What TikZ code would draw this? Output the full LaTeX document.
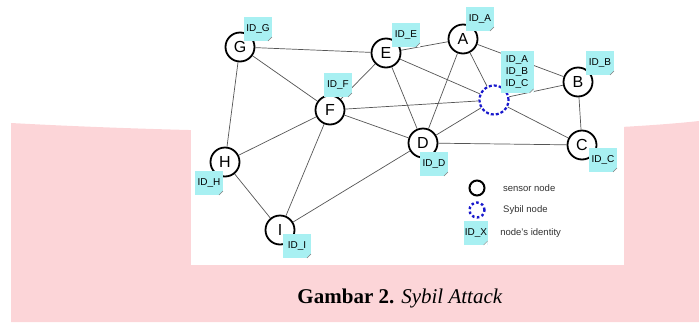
\documentclass[tikz,border=0pt]{standalone}
\usepackage{fontspec}
\setmainfont{Liberation Serif}
\setsansfont{Liberation Sans}
\usetikzlibrary{positioning}
\definecolor{idcyan}{RGB}{168,240,242}
\definecolor{bandpink}{RGB}{252,213,216}
\definecolor{sybilblue}{RGB}{25,25,205}
\definecolor{edgegray}{RGB}{85,85,85}
\tikzstyle{sensor} = [circle, 
			draw, 
			line width = 1.8pt, 
			fill = white, 
			inner sep = 0pt, 
			minimum size = 29pt, 
			font = \sffamily\fontsize{16}{16}\selectfont]
\tikzstyle{sybil} = [circle, 
			draw = sybilblue, 
			dash pattern = on 3pt off 2pt, 
			line width = 2.2pt, 
			fill = white, 
			minimum size = 29pt]
\tikzstyle{ident} = [rectangle, 
			fill = idcyan, 
			text centered, 
			inner sep = 1pt, 
			minimum width = 28pt, 
			minimum height = 24pt, 
			font = \sffamily\fontsize{10}{12}\selectfont, 
			path picture = {
				\fill [white] ([xshift=-4pt]path picture bounding box.south east) -- (path picture bounding box.south east) -- ([yshift=4pt]path picture bounding box.south east) -- cycle;
				\draw [gray] ([xshift=-4pt]path picture bounding box.south east) -- ([yshift=4pt]path picture bounding box.south east);
			}]
\tikzstyle{link} = [draw = edgegray, line width = 0.7pt]
\tikzstyle{legend} = [font = \sffamily\fontsize{9.5}{11}\selectfont, text = black!80]

\begin{document}
\begin{tikzpicture}[x = 1pt, y = -1pt, node distance = 1em]
	\useasboundingbox (0,0) rectangle (699,322);
	% pink band and white sheet
	\fill [bandpink] (11,123) .. controls (250,136) and (560,136) .. (699,121) -- (699,322) -- (11,322) -- cycle;
	\fill [white] (191,0) rectangle (624,265);

	% sensor nodes
	\node [sensor] (G) at (240,47) {G};
	\node [sensor] (E) at (386,53) {E};
	\node [sensor] (A) at (463,39) {A};
	\node [sensor] (F) at (330,110) {F};
	\node [sensor] (B) at (578,82) {B};
	\node [sensor] (D) at (423,143) {D};
	\node [sensor] (C) at (582,145) {C};
	\node [sensor] (H) at (225,162) {H};
	\node [sensor] (I) at (280,230) {I};
	\node [sybil] (S) at (494,100) {};

	% links
	\draw [link] (G) -- (E);
	\draw [link] (G) -- (F);
	\draw [link] (G) -- (H);
	\draw [link] (E) -- (F);
	\draw [link] (E) -- (A);
	\draw [link] (E) -- (D);
	\draw [link] (E) -- (S);
	\draw [link] (F) -- (S);
	\draw [link] (F) -- (D);
	\draw [link] (F) -- (H);
	\draw [link] (F) -- (I);
	\draw [link] (A) -- (D);
	\draw [link] (A) -- (S);
	\draw [link] (A) -- (B);
	\draw [link] (S) -- (B);
	\draw [link] (S) -- (C);
	\draw [link] (S) -- (D);
	\draw [link] (B) -- (C);
	\draw [link] (D) -- (C);
	\draw [link] (D) -- (I);
	\draw [link] (H) -- (I);

	% identities
	\node [ident] (idG) at (258,29) {ID\_G};
	\node [ident] (idE) at (406,35) {ID\_E};
	\node [ident] (idA) at (480,19) {ID\_A};
	\node [ident] (idF) at (338,85) {ID\_F};
	\node [ident, minimum width = 33pt, minimum height = 42pt, align = center] (idS) at (517,72) {ID\_A\\ID\_B\\ID\_C};
	\node [ident] (idB) at (600,63) {ID\_B};
	\node [ident] (idD) at (434,164) {ID\_D};
	\node [ident] (idC) at (603,160) {ID\_C};
	\node [ident] (idH) at (209,183) {ID\_H};
	\node [ident] (idI) at (297,246) {ID\_I};

	% legend
	\node [sensor, minimum size = 15pt, line width = 2pt] (lgsensor) at (477,188) {};
	\node [sybil, minimum size = 15pt, line width = 2.4pt, dash pattern = on 2.5pt off 2.5pt] (lgsybil) at (477,210) {};
	\node [ident, minimum width = 22pt, inner sep = 0.5pt] (lgident) at (476,233) {ID\_X};
	\node [legend, right = 14pt of lgsensor] {sensor node};
	\node [legend, right = 14pt of lgsybil] {Sybil node};
	\node [legend, right = 9pt of lgident] {node's identity};

	% caption
	\node (caption) at (400,298) {\fontsize{21}{25}\selectfont\textbf{Gambar 2.} \textit{Sybil Attack}};
\end{tikzpicture}
\end{document}
